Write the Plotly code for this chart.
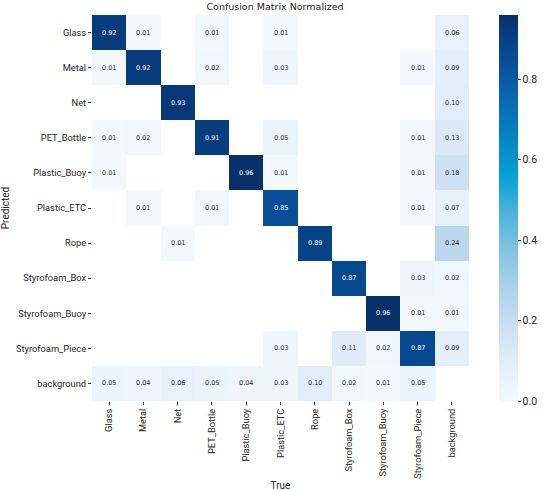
import plotly.graph_objects as go

labels = ["Glass", "Metal", "Net", "PET_Bottle", "Plastic_Buoy", "Plastic_ETC", "Rope",
          "Styrofoam_Box", "Styrofoam_Buoy", "Styrofoam_Piece", "background"]

N = None
row_glass = [0.92, 0.01, N, 0.01, N, 0.01, N, N, N, N, 0.06]
row_metal = [0.01, 0.92, N, 0.02, N, 0.03, N, N, N, 0.01, 0.09]
row_net = [N, N, 0.93, N, N, N, N, N, N, N, 0.10]
row_pet = [0.01, 0.02, N, 0.91, N, 0.05, N, N, N, 0.01, 0.13]
row_pbuoy = [0.01, N, N, N, 0.96, 0.01, N, N, N, 0.01, 0.18]
row_petc = [N, 0.01, N, 0.01, N, 0.85, N, N, N, 0.01, 0.07]
row_rope = [N, N, 0.01, N, N, N, 0.89, N, N, N, 0.24]
row_sbox = [N, N, N, N, N, N, N, 0.87, N, 0.03, 0.02]
row_sbuoy = [N, N, N, N, N, N, N, N, 0.96, 0.01, 0.01]
row_spiece = [N, N, N, N, N, 0.03, N, 0.11, 0.02, 0.87, 0.09]
row_bg = [0.05, 0.04, 0.06, 0.05, 0.04, 0.03, 0.10, 0.02, 0.01, 0.05, N]

z = [row_glass, row_metal, row_net, row_pet, row_pbuoy, row_petc, row_rope,
     row_sbox, row_sbuoy, row_spiece, row_bg]

colorscale = [
    [0.0, "#f4f9fe"],
    [0.1, "#e2eef9"],
    [0.2, "#cbdef1"],
    [0.3, "#a9d0ea"],
    [0.4, "#7dc1e2"],
    [0.5, "#45b0dc"],
    [0.58, "#05a3d3"],
    [0.68, "#0686c2"],
    [0.8, "#0b62ae"],
    [0.9, "#064a92"],
    [1.0, "#08306b"],
]

fig = go.Figure(go.Heatmap(
    z=z, x=labels, y=labels,
    zmin=0, zmax=0.96,
    colorscale=colorscale,
    hoverongaps=False,
    colorbar=dict(
        thickness=19, len=1.0, lenmode="fraction", y=0.5, yanchor="middle",
        x=1.0805, xanchor="left", outlinewidth=0, xpad=0, ypad=0,
        tickvals=[0.0, 0.2, 0.4, 0.6, 0.8], ticktext=["0.0", "0.2", "0.4", "0.6", "0.8"],
        ticks="outside", ticklen=3, tickcolor="#333",
        tickfont=dict(family="Roboto", size=10.5, color="#262626"),
    ),
))

annotations = []
for i, row in enumerate(z):
    for j, v in enumerate(row):
        if v is None:
            continue
        annotations.append(dict(
            x=labels[j], y=labels[i], text=f"{v:.2f}", showarrow=False,
            font=dict(family="DejaVu Sans", size=6.5,
                      color="white" if v > 0.5 else "#262626"),
        ))

fig.update_layout(
    width=550, height=491,
    margin=dict(l=92, r=73, t=15, b=90),
    paper_bgcolor="white", plot_bgcolor="white",
    annotations=annotations,
    title=dict(text="Confusion Matrix Normalized", x=0.5, xanchor="center",
               y=0.986, yanchor="middle",
               font=dict(family="DejaVu Sans", size=9.5, color="#262626")),
    font=dict(family="Roboto", color="#262626"),
)
fig.update_xaxes(
    type="category", side="bottom", tickangle=-90, ticks="outside", ticklen=3,
    tickcolor="#333", tickfont=dict(family="Roboto", size=9.3, color="#262626"),
    title=dict(text="True", font=dict(family="Roboto", size=10, color="#262626"), standoff=10),
    showgrid=False, zeroline=False, showline=False, automargin=False,
)
fig.update_yaxes(
    type="category", autorange="reversed", ticks="outside", ticklen=3,
    tickcolor="#333", tickfont=dict(family="Roboto", size=9.3, color="#262626"),
    title=dict(text="Predicted", font=dict(family="Roboto", size=10, color="#262626"), standoff=6),
    showgrid=False, zeroline=False, showline=False, automargin=False,
)

fig.write_html("out.html", config={"displayModeBar": False},
               post_script="document.body.style.margin='0';")
